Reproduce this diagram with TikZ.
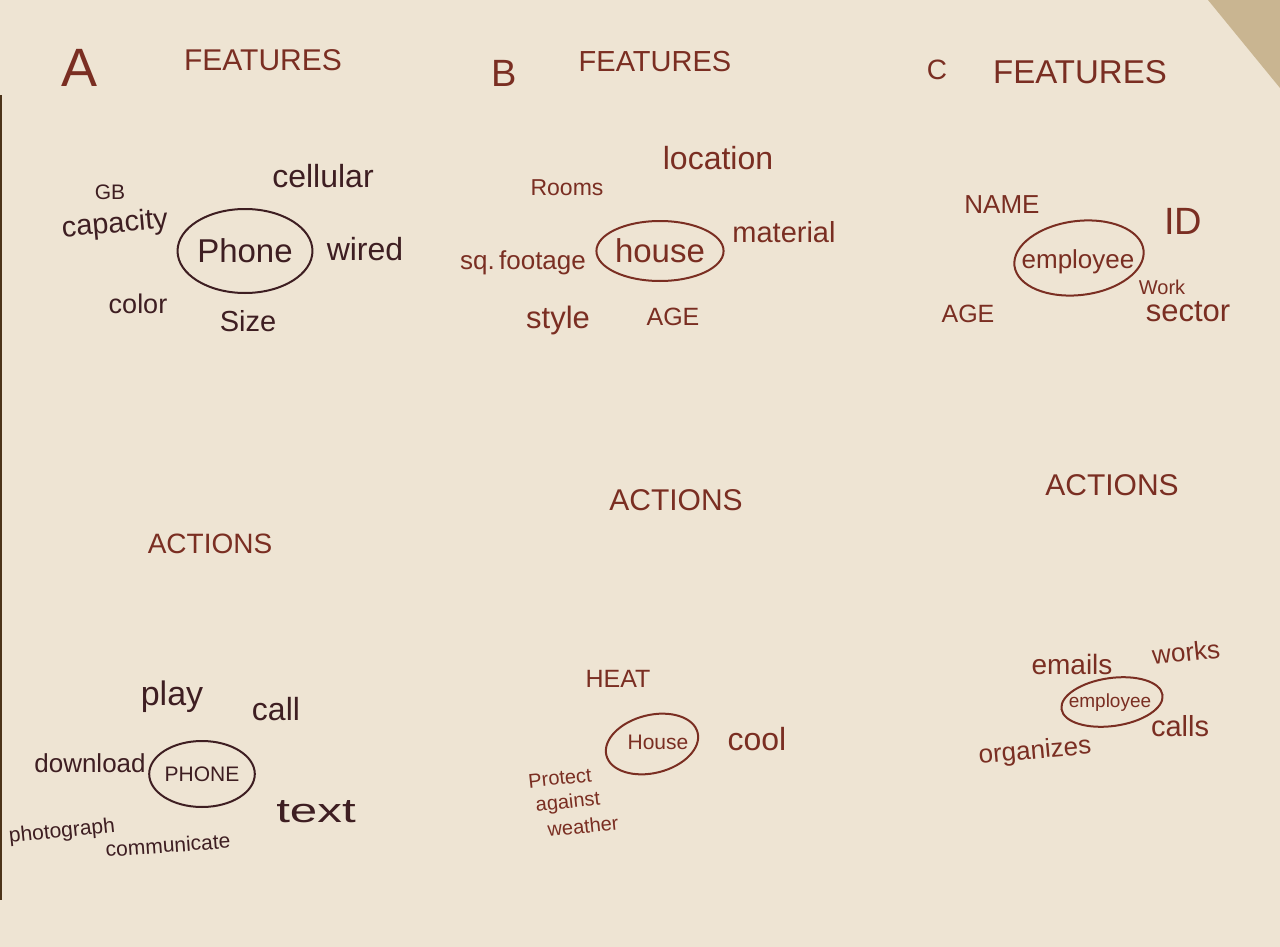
\documentclass[tikz,border=0pt]{standalone}
\usepackage{fontspec}
\setmainfont{Liberation Sans}
\usetikzlibrary{shapes.geometric}
\definecolor{paper}{HTML}{EEE4D3}
\definecolor{tan}{HTML}{C9B591}
\definecolor{inkdark}{HTML}{3E1E22}
\definecolor{inkred}{HTML}{7A2E22}
\newcommand\fsz[1]{\fontsize{#1}{#1}\selectfont}
\tikzset{
  lab/.style={inner sep=0pt, text=inkred, align=center},
  labd/.style={lab, text=inkdark},
  ring/.style={ellipse, draw=inkred, line width=2pt, inner sep=0pt, text=inkred},
  ringd/.style={ring, draw=inkdark, text=inkdark}
}
\begin{document}
\begin{tikzpicture}[x=1pt,y=-1pt]
\fill[paper] (0,0) rectangle (1280,947);
\useasboundingbox (0,0) rectangle (1280,947);
\fill[tan] (1208,0) -- (1280,0) -- (1280,88) -- cycle;
\fill[black!60!brown] (0,95) rectangle (1.8,900);

% headers
\node[lab] (hA) at (80,68) {\fsz{54}A};
\node[lab] (fA) at (263,60) {\fsz{30}FEATURES};
\node[lab] (hB) at (504,73) {\fsz{38}B};
\node[lab] (fB) at (655,62) {\fsz{29}FEATURES};
\node[lab] (hC) at (937,70) {\fsz{28}C};
\node[lab] (fC) at (1080,72) {\fsz{33}FEATURES};

% A features
\node[ringd, minimum width=126pt, minimum height=84pt] (phone) at (245,251) {\fsz{33}Phone};
\node[labd] (gb) at (110,192) {\fsz{21}GB};
\node[labd, rotate=5] (cap) at (115,225) {\fsz{29}capacity};
\node[labd] (cell) at (323,176) {\fsz{32}cellular};
\node[labd] (wired) at (365,249) {\fsz{32}wired};
\node[labd] (color) at (138,304) {\fsz{27}color};
\node[labd] (size) at (248,321) {\fsz{29}Size};

% B features
\node[ring, minimum width=110pt, minimum height=60pt] (house) at (660,251) {\fsz{33}house};
\node[lab] (loc) at (718,158) {\fsz{32}location};
\node[lab] (rooms) at (567,188) {\fsz{23}Rooms};
\node[lab] (mat) at (784,232) {\fsz{29}material};
\node[lab] (sq) at (523,263) {\fsz{26}sq.\,footage};
\node[lab] (style) at (558,320) {\fsz{31}style};
\node[lab] (ageB) at (673,317) {\fsz{25}AGE};

% C features
\node[ring, rotate=7, minimum width=130pt, minimum height=74pt] (emp) at (1079,258) {};
\node[lab] (empt) at (1078,262) {\fsz{26}employee};
\node[lab] (name) at (1002,205) {\fsz{26}NAME};
\node[lab] (id) at (1183,221) {\fsz{38}ID};
\node[lab] (ageC) at (968,314) {\fsz{25}AGE};
\node[lab] (work) at (1162,287) {\fsz{20}Work};
\node[lab] (sector) at (1188,312) {\fsz{31}sector};

% actions headers
\node[lab] (aA) at (210,544) {\fsz{28}ACTIONS};
\node[lab] (aB) at (676,500) {\fsz{30}ACTIONS};
\node[lab] (aC) at (1112,485) {\fsz{30}ACTIONS};

% A actions
\node[ringd, minimum width=98pt, minimum height=66pt] (phone2) at (202,774) {\fsz{21}PHONE};
\node[labd] (play) at (172,697) {\fsz{34}play};
\node[labd] (call) at (276,709) {\fsz{32}call};
\node[labd] (down) at (90,763) {\fsz{26}download};
\node[labd, xscale=1.45, transform shape] (text) at (316,812) {\fsz{34}text};
\node[labd, rotate=6] (photo) at (62,832) {\fsz{21}photograph};
\node[labd, rotate=4] (comm) at (168,845) {\fsz{21}communicate};

% B actions
\node[ring, rotate=14, minimum width=94pt, minimum height=58pt] (house2) at (652,744) {};
\node[lab] (house2t) at (658,742) {\fsz{21}House};
\node[lab] (heat) at (618,679) {\fsz{25}HEAT};
\node[lab] (cool) at (757,739) {\fsz{32}cool};
\node[lab, rotate=6] (prot1) at (560,778) {\fsz{20}Protect};
\node[lab, rotate=6] (prot2) at (568,803) {\fsz{20}against};
\node[lab, rotate=6] (prot3) at (583,826) {\fsz{20}weather};

% C actions
\node[ring, rotate=8, minimum width=102pt, minimum height=48pt] (emp2) at (1112,702) {};
\node[lab] (emp2t) at (1110,703) {\fsz{19}employee};
\node[lab] (emails) at (1072,664) {\fsz{28}emails};
\node[lab, rotate=6] (works) at (1186,652) {\fsz{26}works};
\node[lab] (calls) at (1180,726) {\fsz{29}calls};
\node[lab, rotate=5] (org) at (1035,752) {\fsz{26}organizes};
\end{tikzpicture}
\end{document}
